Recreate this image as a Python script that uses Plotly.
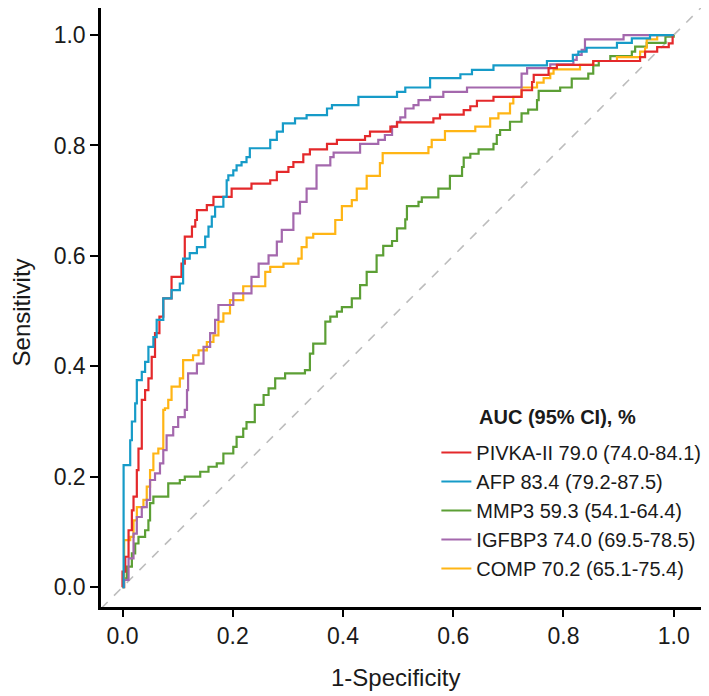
import plotly.graph_objects as go

# ---- data ----
# each curve: x = 1-specificity where a horizontal run starts, y = sensitivity of that run
pivka_x = [0, 0, 0.005, 0.011, 0.017, 0.020, 0.026, 0.029, 0.035, 0.041, 0.047, 0.053, 0.059, 0.067,
           0.074, 0.089, 0.107, 0.113, 0.126, 0.132, 0.135, 0.153, 0.165, 0.198, 0.234, 0.268, 0.280,
           0.301, 0.310, 0.328, 0.340, 0.371, 0.389, 0.440, 0.449, 0.486, 0.498, 0.564, 0.576, 0.619,
           0.631, 0.643, 0.673, 0.724, 0.743, 0.746, 0.773, 0.788, 0.854, 0.939, 0.948, 0.970, 0.991,
           0.998, 1.0]
pivka_y = [0, 0.028, 0.055, 0.103, 0.139, 0.164, 0.212, 0.251, 0.339, 0.357, 0.378, 0.417, 0.460, 0.490,
           0.523, 0.562, 0.586, 0.635, 0.653, 0.665, 0.683, 0.692, 0.707, 0.722, 0.731, 0.737, 0.752,
           0.761, 0.770, 0.784, 0.793, 0.803, 0.810, 0.817, 0.825, 0.834, 0.842, 0.849, 0.856, 0.864,
           0.871, 0.881, 0.888, 0.900, 0.915, 0.928, 0.940, 0.946, 0.953, 0.960, 0.970, 0.978, 0.985,
           1.0, 1.0]

afp_x = [0, 0.002, 0.014, 0.017, 0.023, 0.026, 0.035, 0.041, 0.047, 0.056, 0.062, 0.074, 0.089, 0.104,
         0.110, 0.122, 0.135, 0.150, 0.156, 0.162, 0.168, 0.183, 0.189, 0.192, 0.201, 0.207, 0.216,
         0.225, 0.231, 0.268, 0.280, 0.291, 0.313, 0.334, 0.371, 0.380, 0.428, 0.498, 0.513, 0.558,
         0.613, 0.634, 0.673, 0.770, 0.817, 0.827, 0.842, 0.897, 0.924, 0.957, 1.0]
afp_y = [0, 0.221, 0.266, 0.300, 0.333, 0.375, 0.390, 0.408, 0.435, 0.453, 0.484, 0.523, 0.538, 0.550,
         0.595, 0.605, 0.616, 0.635, 0.653, 0.671, 0.689, 0.707, 0.737, 0.746, 0.755, 0.764, 0.770,
         0.779, 0.795, 0.810, 0.825, 0.840, 0.849, 0.855, 0.867, 0.873, 0.888, 0.897, 0.905, 0.922,
         0.929, 0.937, 0.945, 0.953, 0.964, 0.970, 0.977, 0.986, 0.994, 1.0, 1.0]

mmp3_x = [0, 0.001, 0.008, 0.017, 0.023, 0.029, 0.041, 0.047, 0.050, 0.056, 0.083, 0.104, 0.113, 0.141,
          0.156, 0.171, 0.183, 0.201, 0.207, 0.219, 0.225, 0.240, 0.256, 0.265, 0.277, 0.295, 0.331,
          0.340, 0.346, 0.368, 0.377, 0.389, 0.398, 0.416, 0.431, 0.443, 0.461, 0.473, 0.489, 0.498,
          0.513, 0.516, 0.537, 0.543, 0.573, 0.594, 0.616, 0.619, 0.631, 0.646, 0.673, 0.679, 0.685,
          0.703, 0.724, 0.736, 0.752, 0.755, 0.794, 0.815, 0.845, 0.854, 0.864, 0.885, 0.924, 0.930,
          0.951, 0.985, 1.0]
mmp3_y = [0, 0.016, 0.037, 0.061, 0.079, 0.091, 0.103, 0.121, 0.152, 0.164, 0.188, 0.194, 0.200, 0.209,
          0.218, 0.224, 0.242, 0.254, 0.272, 0.287, 0.299, 0.330, 0.348, 0.360, 0.378, 0.387, 0.393,
          0.423, 0.441, 0.481, 0.490, 0.499, 0.507, 0.523, 0.547, 0.571, 0.601, 0.618, 0.627, 0.650,
          0.666, 0.690, 0.698, 0.706, 0.722, 0.745, 0.761, 0.778, 0.785, 0.793, 0.803, 0.819, 0.828,
          0.843, 0.858, 0.865, 0.882, 0.899, 0.905, 0.921, 0.930, 0.945, 0.953, 0.962, 0.970, 0.979,
          0.986, 0.997, 1.0]

igfbp3_x = [0, 0.003, 0.011, 0.020, 0.026, 0.035, 0.044, 0.050, 0.059, 0.068, 0.074, 0.080, 0.092, 0.101,
            0.113, 0.117, 0.119, 0.135, 0.147, 0.159, 0.168, 0.174, 0.201, 0.234, 0.247, 0.265, 0.280,
            0.289, 0.310, 0.322, 0.334, 0.352, 0.377, 0.383, 0.431, 0.464, 0.476, 0.489, 0.498, 0.504,
            0.513, 0.528, 0.537, 0.558, 0.582, 0.625, 0.724, 0.734, 0.776, 0.818, 0.824, 0.833, 0.839,
            0.909, 1.0]
igfbp3_y = [0, 0.013, 0.052, 0.097, 0.127, 0.145, 0.158, 0.194, 0.206, 0.224, 0.248, 0.275, 0.290, 0.308,
            0.321, 0.357, 0.387, 0.405, 0.435, 0.460, 0.484, 0.511, 0.532, 0.562, 0.586, 0.601, 0.626,
            0.647, 0.677, 0.698, 0.722, 0.764, 0.779, 0.787, 0.803, 0.810, 0.819, 0.834, 0.843, 0.851,
            0.867, 0.873, 0.882, 0.888, 0.897, 0.905, 0.930, 0.940, 0.947, 0.955, 0.964, 0.973, 0.992,
            1.0, 1.0]

comp_x = [0, 0.003, 0.014, 0.020, 0.026, 0.038, 0.044, 0.050, 0.056, 0.065, 0.074, 0.077, 0.083, 0.089,
          0.104, 0.110, 0.128, 0.138, 0.153, 0.165, 0.174, 0.183, 0.195, 0.219, 0.259, 0.268, 0.292,
          0.319, 0.325, 0.334, 0.346, 0.386, 0.398, 0.416, 0.425, 0.443, 0.467, 0.472, 0.555, 0.561,
          0.585, 0.640, 0.667, 0.682, 0.703, 0.709, 0.724, 0.752, 0.764, 0.776, 0.782, 0.830, 0.854,
          0.897, 0.939, 0.948, 0.951, 0.970, 1.0]
comp_y = [0, 0.085, 0.091, 0.121, 0.145, 0.158, 0.182, 0.212, 0.242, 0.251, 0.321, 0.324, 0.339, 0.363,
          0.378, 0.411, 0.420, 0.429, 0.444, 0.456, 0.481, 0.496, 0.520, 0.545, 0.571, 0.580, 0.586,
          0.595, 0.616, 0.633, 0.640, 0.665, 0.690, 0.701, 0.722, 0.745, 0.768, 0.786, 0.797, 0.810,
          0.826, 0.834, 0.849, 0.858, 0.876, 0.888, 0.905, 0.914, 0.922, 0.930, 0.938, 0.946, 0.953,
          0.960, 0.970, 0.977, 0.992, 1.0, 1.0]

series_names = ["PIVKA-II 79.0 (74.0-84.1)", "AFP 83.4 (79.2-87.5)", "MMP3 59.3 (54.1-64.4)",
                "IGFBP3 74.0 (69.5-78.5)", "COMP 70.2 (65.1-75.4)"]
series_x = [pivka_x, afp_x, mmp3_x, igfbp3_x, comp_x]
series_y = [pivka_y, afp_y, mmp3_y, igfbp3_y, comp_y]
colors = ["#E4292B", "#169BC8", "#5C9F35", "#A468AD", "#FFB515"]
draw_order = [2, 4, 3, 0, 1]
legend_title = "AUC (95% CI), %"

diag = [-0.2, 1.2]
x_ticks = [0.0, 0.2, 0.4, 0.6, 0.8, 1.0]
y_ticks = [0.0, 0.2, 0.4, 0.6, 0.8, 1.0]
tick_text = ["0.0", "0.2", "0.4", "0.6", "0.8", "1.0"]

FONT = "Liberation Sans, Arial, sans-serif"
INK = "#1a1a1a"

fig = go.Figure()
fig.add_trace(go.Scatter(x=diag, y=diag, mode="lines", showlegend=False,
                         line=dict(color="#BDBDBD", width=1.6, dash="dash"), hoverinfo="skip"))

traces = {}
for i in range(len(series_names)):
    traces[i] = go.Scatter(x=series_x[i], y=series_y[i], mode="lines", name=series_names[i],
                           line=dict(color=colors[i], width=2.2, shape="hv"),
                           legendgroup=str(i), legendrank=i + 1)
for i in draw_order:
    fig.add_trace(traces[i])

fig.update_layout(
    width=701, height=688,
    margin=dict(l=93, r=0, t=0, b=89),
    paper_bgcolor="white", plot_bgcolor="white",
    font=dict(family=FONT, color=INK),
    showlegend=True,
    legend=dict(
        font=dict(size=20, family=FONT, color=INK),
        x=0.5516, xanchor="left", y=0.2905, yanchor="top",
        bgcolor="rgba(0,0,0,0)", tracegroupgap=0, itemwidth=30,
    ),
    xaxis=dict(range=[-0.039, 1.064], tickvals=x_ticks, ticktext=tick_text,
               showgrid=False, zeroline=False, showline=True, linecolor="black", linewidth=2.5,
               ticks="outside", ticklen=7, tickwidth=2, tickcolor="black",
               tickfont=dict(size=23, family=FONT, color=INK)),
    yaxis=dict(range=[-0.036, 1.049], tickvals=y_ticks, ticktext=tick_text,
               showgrid=False, zeroline=False, showline=True, linecolor="black", linewidth=2.5,
               ticks="outside", ticklen=8, tickwidth=2, tickcolor="black",
               tickfont=dict(size=23, family=FONT, color=INK)),
    annotations=[
        dict(text="1-Specificity", xref="paper", yref="paper", x=0.485, y=-0.1169,
             xanchor="center", yanchor="middle", showarrow=False,
             font=dict(size=24, family=FONT, color=INK)),
        dict(text="Sensitivity", xref="paper", yref="paper", x=-0.1300, y=0.4917,
             xanchor="center", yanchor="middle", showarrow=False, textangle=-90,
             font=dict(size=24, family=FONT, color=INK)),
        dict(text="<b>" + legend_title + "</b>", xref="paper", yref="paper", x=0.6184, y=0.3172,
             xanchor="left", yanchor="middle", showarrow=False,
             font=dict(size=20, family=FONT, color=INK)),
    ],
)

fig.write_html("out.html")
